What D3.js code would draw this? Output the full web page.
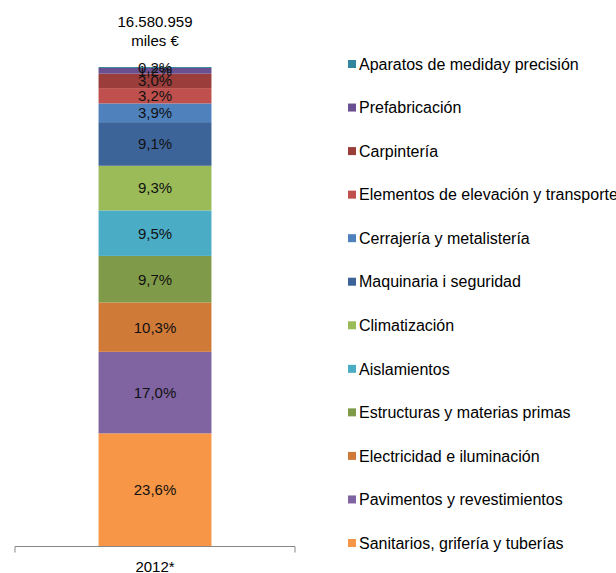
<!DOCTYPE html>
<html>
<head>
<meta charset="utf-8">
<script src="https://cdn.jsdelivr.net/npm/d3@7"></script>
<style>
  body { margin: 0; background: #fff; }
  svg text { font-family: Arial, "Liberation Sans", sans-serif; fill: #000; }
</style>
</head>
<body>
<svg id="chart" width="616" height="573"></svg>
<script>
// bottom to top
const categories = [
  'Sanitarios, grifería y tuberías',
  'Pavimentos y revestimientos',
  'Electricidad e iluminación',
  'Estructuras y materias primas',
  'Aislamientos',
  'Climatización',
  'Maquinaria i seguridad',
  'Cerrajería y metalistería',
  'Elementos de elevación y transporte',
  'Carpintería',
  'Prefabricación',
  'Aparatos de mediday precisión'
];
const values = [23.6, 17.0, 10.3, 9.7, 9.5, 9.3, 9.1, 3.9, 3.2, 3.0, 1.2, 0.2];
const colors = ['#F79646', '#8064A2', '#D07A38', '#7F9A48', '#4BACC6', '#9BBB59',
                '#3D6499', '#4F81BD', '#C0504D', '#9B3D3B', '#6A5090', '#31859C'];
const years = ['2012*'];
const totalLabel = ['16.580.959', 'miles €'];

const svg = d3.select('#chart');
const fmt = (v) => v.toFixed(1).replace('.', ',') + '%';

const x = d3.scaleBand().domain(years).range([15, 295]).paddingInner(0).paddingOuter(0.74);
const y = d3.scaleLinear().domain([0, 100]).range([546.5, 67]);

const row = {};
categories.forEach((c, i) => { row[c] = values[i]; });
const series = d3.stack().keys(categories)([row]);

const segs = svg.append('g')
  .selectAll('g')
  .data(series)
  .enter()
  .append('g');

segs.append('rect')
  .attr('x', x(years[0]))
  .attr('width', x.bandwidth())
  .attr('y', (d) => y(d[0][1]))
  .attr('height', (d) => y(d[0][0]) - y(d[0][1]))
  .attr('fill', (d, i) => colors[i]);

segs.append('text')
  .attr('x', x(years[0]) + x.bandwidth() / 2)
  .attr('y', (d) => (y(d[0][0]) + y(d[0][1])) / 2)
  .attr('dy', '0.36em')
  .attr('text-anchor', 'middle')
  .style('font-size', '15px')
  .style('fill', '#111')
  .text((d, i) => fmt(values[i]));

// axis
const axis = svg.append('g').attr('transform', 'translate(0,546.5)');
axis.append('line').attr('x1', 15).attr('x2', 295).attr('stroke', '#868686').attr('stroke-width', 1);
[15, 295].forEach((px) => {
  axis.append('line').attr('x1', px).attr('x2', px).attr('y1', 0).attr('y2', 6)
    .attr('stroke', '#868686');
});
axis.append('text')
  .attr('x', x(years[0]) + x.bandwidth() / 2)
  .attr('y', 25)
  .attr('text-anchor', 'middle')
  .style('font-size', '15px')
  .text(years[0]);

// total above bar
svg.append('g').selectAll('text')
  .data(totalLabel)
  .enter()
  .append('text')
  .attr('x', x(years[0]) + x.bandwidth() / 2)
  .attr('y', (d, i) => 27 + i * 19)
  .attr('text-anchor', 'middle')
  .style('font-size', '15px')
  .text((d) => d);

// legend, top to bottom
const legendItems = categories.map((c, i) => ({ name: c, color: colors[i] })).reverse();
const ly = d3.scalePoint().domain(legendItems.map((d) => d.name)).range([64, 543]);

const leg = svg.append('g')
  .selectAll('g')
  .data(legendItems)
  .enter()
  .append('g')
  .attr('transform', (d) => `translate(348,${ly(d.name)})`);

leg.append('rect')
  .attr('x', 0).attr('y', -4)
  .attr('width', 8).attr('height', 8)
  .attr('fill', (d) => d.color);

leg.append('text')
  .attr('x', 11)
  .attr('dy', '0.36em')
  .style('font-size', '16px')
  .text((d) => d.name);
</script>
</body>
</html>
